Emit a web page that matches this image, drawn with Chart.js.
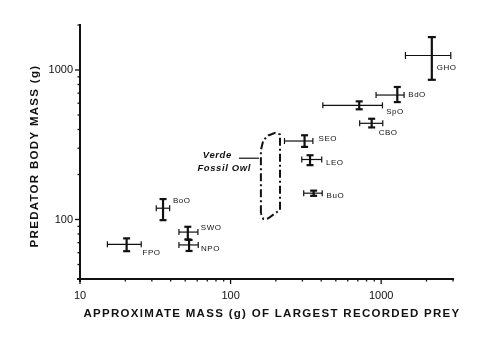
<!DOCTYPE html>
<html>
<head>
<meta charset="utf-8">
<script src="https://cdn.jsdelivr.net/npm/chart.js@4.4.0/dist/chart.umd.min.js"></script>
<style>
  body { margin: 0; background: #fff; }
  canvas { display: block; }
</style>
</head>
<body>
<canvas id="grafica" width="500" height="337"></canvas>
<script>
// owl species, prey mass (g) and predator body mass (g) with their ranges
var owls = ["GHO", "BdO", "SpO", "CBO", "SEO", "LEO", "BuO", "BoO", "SWO", "NPO", "FPO"]
var preyMass = [2170, 1280, 715, 865, 310, 337, 356, 35.6, 52, 53, 20.4]
var preyLow = [1450, 925, 410, 720, 228, 297, 306, 32.1, 45.4, 45.4, 15.2]
var preyHigh = [2900, 1420, 1020, 1025, 352, 403, 406, 39.4, 60.7, 61, 25.5]
var bodyMass = [1250, 680, 580, 440, 335, 252, 150, 119, 82.4, 67.6, 68.2]
var bodyLow = [860, 610, 546, 413, 306, 231, 144, 99, 73.6, 61.6, 61.4]
var bodyHigh = [1660, 770, 617, 472, 366, 269, 156, 137, 89.4, 73, 74.8]

// outline of the Verde fossil owl estimate
var fossilPrey = [159, 159, 165, 178, 198, 213, 213, 178, 165, 159]
var fossilBody = [110, 291, 339, 365, 380, 371, 116, 102, 101, 110]

var xTickLabels = [10, 100, 1000]
var yTickLabels = [100, 1000]

// label offsets in px from each point
var offsetsLabel = [[5, 12], [11, 0], [27, 6], [7, 9], [14, -2], [16, 3], [13, 3], [10, -7], [13, -4], [12, 4], [16, 8]]

function linea(ctx, x0, y0, x1, y1) {
    ctx.beginPath();
    ctx.moveTo(x0, y0);
    ctx.lineTo(x1, y1);
    ctx.stroke();
}

// 1..9 x 10^n between min and max
function valoresLog(min, max) {
    var lista = []
    for (let d = 1; d <= 1000; d *= 10) {
        for (let m = 1; m <= 9; m++) {
            var v = m * d;
            if (v >= min && v <= max) lista.push(v);
        }
    }
    return lista
}

var barrasError = {
    id: 'barrasError',
    afterDatasetsDraw: function (chart) {
        var ctx = chart.ctx;
        var x = chart.scales.x;
        var y = chart.scales.y;
        ctx.save();
        ctx.strokeStyle = "#111";
        ctx.fillStyle = "#111";
        ctx.font = '8px "Liberation Sans"';
        ctx.letterSpacing = "0.5px";
        ctx.textBaseline = "middle";
        for (let i = 0; i < owls.length; i++) {
            var px = x.getPixelForValue(preyMass[i]);
            var py = y.getPixelForValue(bodyMass[i]);
            var x0 = x.getPixelForValue(preyLow[i]);
            var x1 = x.getPixelForValue(preyHigh[i]);
            var y0 = y.getPixelForValue(bodyLow[i]);
            var y1 = y.getPixelForValue(bodyHigh[i]);
            var capH = i == 0 ? 3.5 : 3;
            var capV = i == 0 ? 4 : 3.5;

            ctx.lineWidth = 1.2;
            linea(ctx, x0, py, x1, py);
            linea(ctx, x0, py - capH, x0, py + capH);
            linea(ctx, x1, py - capH, x1, py + capH);

            ctx.lineWidth = 2.2;
            linea(ctx, px, y0, px, y1);
            linea(ctx, px - capV, y0, px + capV, y0);
            linea(ctx, px - capV, y1, px + capV, y1);

            ctx.fillText(owls[i], px + offsetsLabel[i][0], py + offsetsLabel[i][1]);
        }

        // fossil owl note with leader line
        var ax = x.getPixelForValue(fossilPrey[0]);
        var ay = y.getPixelForValue(257);
        ctx.lineWidth = 1.2;
        linea(ctx, ax - 22, ay, ax - 2, ay);
        ctx.font = 'italic bold 9.5px "Liberation Sans"';
        ctx.letterSpacing = "0.6px";
        ctx.textAlign = "right";
        ctx.fillText("Verde", ax - 29, ay - 3);
        ctx.fillText("Fossil Owl", ax - 10, ay + 10);
        ctx.restore();
    },
    afterDraw: function (chart) {
        var ctx = chart.ctx;
        var x = chart.scales.x;
        var y = chart.scales.y;
        var area = chart.chartArea;
        ctx.save();
        ctx.strokeStyle = "#111";

        // tick marks: long on decades, short in between
        ctx.lineWidth = 1.3;
        valoresLog(10, 3000).forEach(function (v) {
            var p = x.getPixelForValue(v);
            var largo = xTickLabels.indexOf(v) >= 0 ? 5 : 2.5;
            linea(ctx, p, area.bottom, p, area.bottom + largo);
        });
        valoresLog(40, 2000).forEach(function (v) {
            var p = y.getPixelForValue(v);
            var largo = yTickLabels.indexOf(v) >= 0 ? 5 : 2.5;
            linea(ctx, area.left - largo, p, area.left, p);
        });
        // axes cross a little past the corner
        ctx.lineWidth = 2;
        linea(ctx, area.left - 3, area.bottom, area.left, area.bottom);
        linea(ctx, area.left, area.bottom, area.left, area.bottom + 3);

        ctx.fillStyle = "#111";
        ctx.font = 'bold 11.5px "Liberation Sans"';
        ctx.letterSpacing = "1.3px";
        ctx.textAlign = "center";
        ctx.textBaseline = "middle";
        ctx.fillText("APPROXIMATE MASS (g) OF LARGEST RECORDED PREY", 272, 314);
        ctx.translate(35, 156);
        ctx.rotate(-Math.PI / 2);
        ctx.fillText("PREDATOR BODY MASS (g)", 0, 0);
        ctx.restore();
    }
}

var puntos = []
for (let index = 0; index < owls.length; index++) {
    puntos.push({x: preyMass[index], y: bodyMass[index]})
}

var contorno = []
for (let index = 0; index < fossilPrey.length; index++) {
    contorno.push({x: fossilPrey[index], y: fossilBody[index]})
}

function etiqueta(lista) {
    return function (value) {
        for (let k = 0; k < lista.length; k++) {
            if (Math.abs(value - lista[k]) < 1e-6 * lista[k]) return String(lista[k]);
        }
        return "";
    }
}

var ctx = document.getElementById('grafica').getContext('2d');

new Chart(ctx, {
    type: 'scatter',
    data: {
        datasets: [{
            data: puntos,
            pointRadius: 0
        }, {
            data: contorno,
            showLine: true,
            borderColor: "#111",
            borderWidth: 2,
            borderDash: [8, 3, 2, 3],
            pointRadius: 0,
            tension: 0
        }]
    },
    options: {
        responsive: false,
        animation: false,
        devicePixelRatio: 1,
        layout: {padding: {top: 25, right: 47, left: 0, bottom: 0}},
        plugins: {legend: {display: false}, tooltip: {enabled: false}},
        scales: {
            x: {
                type: 'logarithmic',
                min: 10,
                max: 3000,
                grid: {drawOnChartArea: false, drawTicks: true, tickLength: 4, color: "rgba(0,0,0,0)"},
                border: {color: "#111", width: 2},
                ticks: {callback: etiqueta(xTickLabels), autoSkip: false, maxRotation: 0, color: "#111",
                    font: {family: "Liberation Sans", size: 11}, padding: 6},
                afterFit: function (scale) { scale.height = 58; }
            },
            y: {
                type: 'logarithmic',
                min: 40,
                max: 2000,
                grid: {drawOnChartArea: false, drawTicks: true, tickLength: 4, color: "rgba(0,0,0,0)"},
                border: {color: "#111", width: 2},
                ticks: {callback: etiqueta(yTickLabels), autoSkip: false, color: "#111",
                    font: {family: "Liberation Sans", size: 11}, padding: 3},
                afterFit: function (scale) { scale.width = 80; }
            }
        }
    },
    plugins: [barrasError]
});
</script>
</body>
</html>
